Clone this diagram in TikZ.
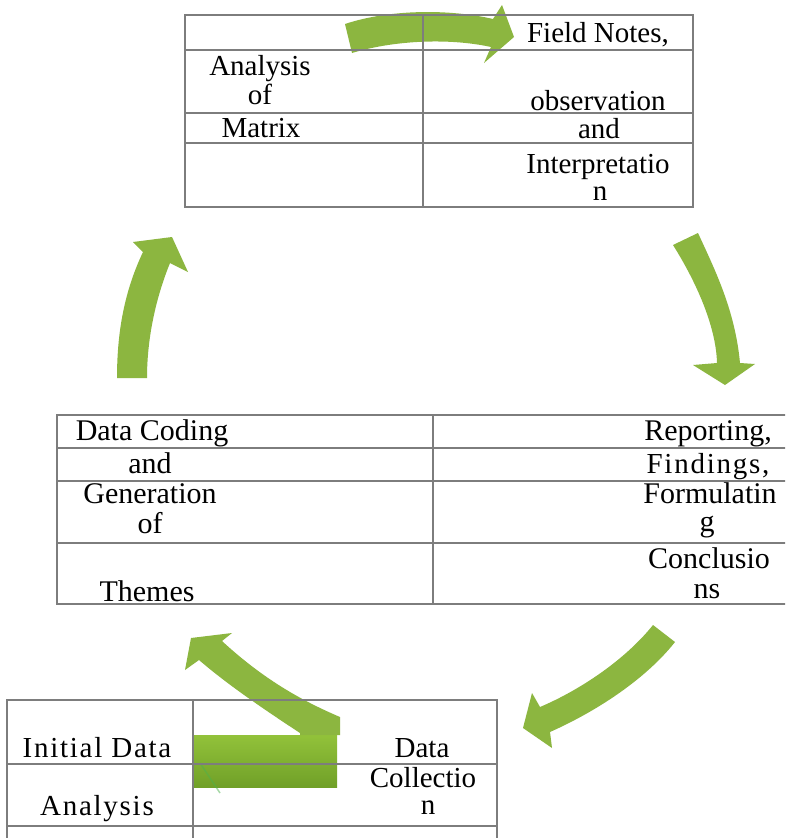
\documentclass[tikz,border=0pt]{standalone}
\usepackage{fontspec}
\setmainfont{Liberation Serif}
\definecolor{arrowgreen}{RGB}{140,182,64}
\definecolor{gridgray}{RGB}{125,125,125}
\definecolor{blocktop}{RGB}{146,194,58}
\definecolor{blockmid}{RGB}{156,204,72}
\definecolor{blockbot}{RGB}{112,160,40}
\begin{document}
\begin{tikzpicture}[x=1pt,y=-1pt,
  txt/.style={anchor=base,inner sep=0pt,font=\fontsize{29}{30}\selectfont},
  txtm/.style={anchor=base,inner sep=0pt,font=\fontsize{30}{31}\selectfont},
  spaced/.style={font=\fontsize{29}{30}\selectfont\addfontfeature{LetterSpace=6}},
  gridline/.style={draw=gridgray,line width=1.3pt},
  arr/.style={fill=arrowgreen}]
\useasboundingbox (0,0) rectangle (785,838);
\clip (0,0) rectangle (785,838);
\fill[white] (0,0) rectangle (785,838);

% ---- green curved arrows ----
% top arrow (pointing right)
\fill[arr] (345,24) .. controls (390,9) and (450,9) .. (493,19)
  -- (502,5) -- (514,37) -- (484,63) -- (491,47)
  .. controls (450,38) and (395,40) .. (352,53) -- cycle;
% right arrow (pointing down)
\fill[arr] (673,245) -- (698,233) .. controls (715,270) and (735,310) .. (740,363)
  -- (755,364) -- (725,385) -- (693,365) -- (717,363)
  .. controls (716,325) and (695,280) .. (673,245) -- cycle;
% lower right arrow (pointing down-left)
\fill[arr] (653,625) .. controls (625,660) and (580,690) .. (540,707)
  -- (532,693) -- (523,728) -- (552,748) -- (550,732)
  .. controls (595,712) and (645,680) .. (675,642) -- cycle;
% left arrow (pointing up)
\fill[arr] (117,378) .. controls (117,330) and (125,290) .. (143,252)
  -- (133,242) -- (172,237) -- (188,272) -- (170,263)
  .. controls (155,300) and (147,340) .. (147,378) -- cycle;
% lower left arrow (block and arm pointing up-left)
\shade[top color=blocktop,middle color=blockmid,bottom color=blockbot]
  (193,735) rectangle (337,787);
\fill[arr] (300,735) -- (340,735) -- (340,717)
  .. controls (300,700) and (262,678) .. (222,641)
  -- (232,633) -- (191,638) -- (185,670) -- (199,660)
  .. controls (228,685) and (265,710) .. (300,733) -- cycle;
\draw[green!40!gray,opacity=0.5,line width=1.5pt] (200,763) -- (220,793);

% ---- top table ----
\draw[gridline] (185,15) rectangle (693,207);
\draw[gridline] (423,15) -- (423,207);
\foreach \yy in {50,113,143} \draw[gridline] (185,\yy) -- (693,\yy);
\node[txt] (ta1) at (260,75) {Analysis};
\node[txt] (ta2) at (260,104) {of};
\node[txt] (ta3) at (261,137) {Matrix};
\node[txt] (tb1) at (598,42) {Field Notes,};
\node[txt] (tb2) at (598,110) {observation};
\node[txt] (tb3) at (599,138) {and};
\node[txt] (tb4) at (598,173) {Interpretatio};
\node[txt] (tb5) at (600,200) {n};

% ---- middle table ----
\draw[gridline] (57,415) rectangle (792,604);
\draw[gridline] (433,415) -- (433,604);
\foreach \yy in {448,481,543} \draw[gridline] (57,\yy) -- (792,\yy);
\node[txtm] (ma1) at (152,440) {Data Coding};
\node[txtm] (ma2) at (150,473) {and};
\node[txtm] (ma3) at (150,503) {Generation};
\node[txtm] (ma4) at (150,533) {of};
\node[txtm] (ma5) at (147,601) {Themes};
\node[txtm] (mb1) at (708,440) {Reporting,};
\node[txtm,spaced] (mb2) at (708,473) {Findings,};
\node[txtm] (mb3) at (710,503) {Formulatin};
\node[txtm] (mb4) at (707,531) {g};
\node[txtm] (mb5) at (709,568) {Conclusio};
\node[txtm] (mb6) at (707,598) {ns};

% ---- bottom table ----
\draw[gridline] (7,850) -- (7,700) -- (497,700) -- (497,850);
\draw[gridline] (193,700) -- (193,850);
\foreach \yy in {764,826} \draw[gridline] (7,\yy) -- (497,\yy);
\node[txt,spaced] (ba1) at (97,757) {Initial Data};
\node[txt,spaced] (ba2) at (97,815) {Analysis};
\node[txt] (bb1) at (422,757) {Data};
\node[txt] (bb2) at (423,787) {Collectio};
\node[txt] (bb3) at (428,814) {n};
\end{tikzpicture}
\end{document}
